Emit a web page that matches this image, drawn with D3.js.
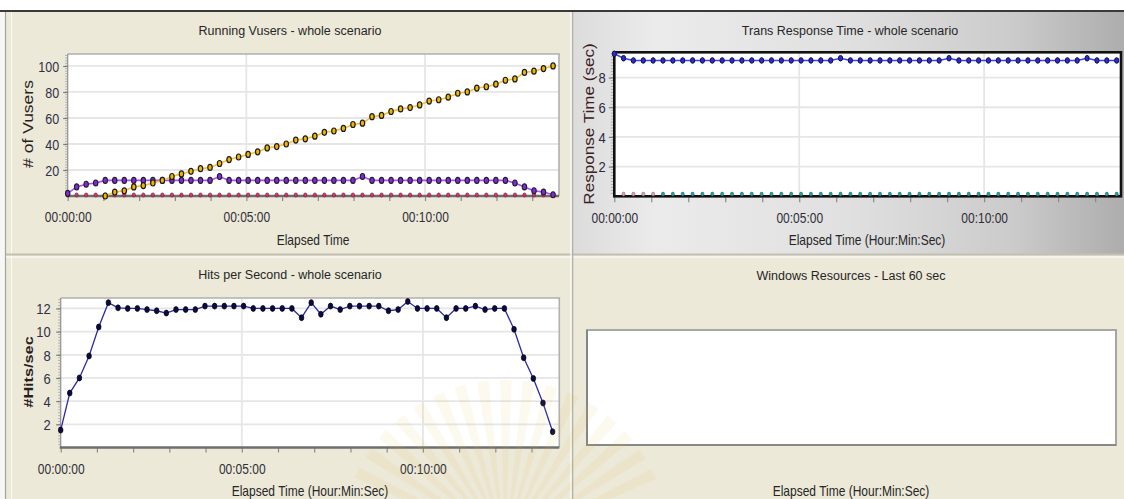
<!DOCTYPE html>
<html>
<head>
<meta charset="utf-8">
<script src="https://cdn.jsdelivr.net/npm/d3@7"></script>
<style>
  html, body { margin: 0; padding: 0; background: #fff; }
  svg { display: block; }
  text { font-family: "Liberation Sans", Arial, sans-serif; }
</style>
</head>
<body>
<svg id="chart" width="1124" height="499"></svg>
<script>
// ---- sample times (seconds of elapsed scenario time) ----
const elapsedSec = [0, 15, 31, 47, 63, 79, 95, 111, 127, 143, 159, 175, 191, 207, 223, 239, 255, 271,
  287, 303, 319, 335, 351, 367, 383, 399, 415, 431, 447, 463, 479, 495, 511, 527, 543, 559, 575, 591,
  607, 623, 639, 655, 671, 687, 703, 719, 735, 751, 767, 783, 799, 815];

// ---- Running Vusers ----
const vusersRamp = [null, null, null, null, 0, 3, 4, 7, 8, 10, 12, 15, 17, 19, 21, 22, 25, 28, 30, 32,
  34, 37, 38, 40, 43, 44, 46, 49, 50, 52, 55, 56, 61, 62, 65, 67, 68, 70, 73, 74, 76, 79, 80, 83, 84,
  86, 89, 90, 95, 96, 98, 100];
const vusersSteady = [2, 7, 9, 10, 12, 12, 12, 12, 12, 12, 12, 12, 12, 12, 12, 12, 15, 12, 12, 12, 12,
  12, 12, 12, 12, 12, 12, 12, 12, 12, 12, 15, 12, 12, 12, 12, 12, 12, 12, 12, 12, 12, 12, 12, 12, 12,
  12, 10, 7, 4, 3, 1];
const vusersIdle = [0, 0, 0, 0, 0, 0, 0, 0, 0, 0, 0, 0, 0, 0, 0, 0, 0, 0, 0, 0, 0, 0, 0, 0, 0, 0, 0, 0,
  0, 0, 0, 0, 0, 0, 0, 0, 0, 0, 0, 0, 0, 0, 0, 0, 0, 0, 0, 0, 0, 0, 0, 0];

// ---- Trans Response Time (sec) ----
const respMain = [9.6, 9.3, 9.15, 9.15, 9.15, 9.15, 9.15, 9.15, 9.15, 9.15, 9.15, 9.15, 9.15, 9.15,
  9.15, 9.15, 9.15, 9.15, 9.15, 9.15, 9.15, 9.15, 9.15, 9.3, 9.15, 9.15, 9.15, 9.15, 9.15, 9.15, 9.15,
  9.15, 9.15, 9.15, 9.3, 9.15, 9.15, 9.15, 9.15, 9.15, 9.15, 9.15, 9.15, 9.15, 9.15, 9.15, 9.15, 9.15,
  9.3, 9.15, 9.15, 9.15];
const respLogin = [null, 0, 0, 0, 0, null, null, null, null, null, null, null, null, null, null, null,
  null, null, null, null, null, null, null, null, null, null, null, null, null, null, null, null, null,
  null, null, null, null, null, null, null, null, null, null, null, null, null, null, null, null, null,
  null, null];
const respLogout = [null, null, null, null, null, 0, 0, 0, 0, 0, 0, 0, 0, 0, 0, 0, 0, 0, 0, 0, 0, 0, 0,
  0, 0, 0, 0, 0, 0, 0, 0, 0, 0, 0, 0, 0, 0, 0, 0, 0, 0, 0, 0, 0, 0, 0, 0, 0, 0, 0, 0, 0];

// ---- Hits per Second ----
const hitsPerSec = [1.5, 4.7, 6.0, 7.9, 10.4, 12.5, 12.05, 12.0, 12.0, 11.9, 11.8, 11.6, 11.9, 11.9,
  11.9, 12.2, 12.2, 12.2, 12.2, 12.2, 12.0, 12.0, 12.0, 12.0, 12.0, 11.2, 12.5, 11.5, 12.2, 11.9, 12.2,
  12.2, 12.2, 12.2, 11.8, 11.9, 12.6, 12.0, 12.0, 12.0, 11.2, 12.0, 12.0, 12.2, 11.9, 12.0, 12.0, 10.2,
  7.75, 5.96, 3.84, 1.36];

// ---- axis ticks ----
const timeTickValues = [0, 300, 600];
const timeTickLabels = ["00:00:00", "00:05:00", "00:10:00"];
const vuserTicks = [20, 40, 60, 80, 100];
const respTicks = [2, 4, 6, 8];
const hitsTicks = [2, 4, 6, 8, 10, 12];

const W = 1124, H = 499;
const svg = d3.select("#chart");
const defs = svg.append("defs");

// ---------- window chrome ----------
svg.append("rect").attr("width", W).attr("height", H).attr("fill", "#ECE9D8");
svg.append("rect").attr("x", 0).attr("y", 0).attr("width", W).attr("height", 10).attr("fill", "#ffffff");
svg.append("rect").attr("x", 0).attr("y", 10).attr("width", 5).attr("height", H - 10).attr("fill", "#f7f7f4");

const grad = defs.append("linearGradient").attr("id", "greyPane").attr("x1", 0).attr("x2", 1).attr("y1", 0).attr("y2", 0);
[["0%", "#dcdcdc"], ["15%", "#ebebeb"], ["50%", "#e0e0e0"], ["80%", "#cbcbcb"], ["100%", "#adadad"]]
  .forEach(([o, c]) => grad.append("stop").attr("offset", o).attr("stop-color", c));
svg.append("rect").attr("x", 573).attr("y", 12).attr("width", W - 573).attr("height", 242).attr("fill", "url(#greyPane)");

svg.append("line").attr("x1", 0).attr("x2", W).attr("y1", 11).attr("y2", 11).attr("stroke", "#3a3a3a").attr("stroke-width", 2);
svg.append("line").attr("x1", 5.5).attr("x2", 5.5).attr("y1", 12).attr("y2", H).attr("stroke", "#a4a49a").attr("stroke-width", 1.2);
svg.append("line").attr("x1", 11.5).attr("x2", 11.5).attr("y1", 12).attr("y2", H).attr("stroke", "#fbfbf6").attr("stroke-width", 1);
svg.append("line").attr("x1", 6).attr("x2", W).attr("y1", 254.5).attr("y2", 254.5).attr("stroke", "#c2c0b2").attr("stroke-width", 2);
svg.append("line").attr("x1", 6).attr("x2", W).attr("y1", 257).attr("y2", 257).attr("stroke", "#ffffff").attr("stroke-width", 1.2);
svg.append("line").attr("x1", 571).attr("x2", 571).attr("y1", 12).attr("y2", H).attr("stroke", "#ffffff").attr("stroke-width", 1.2);
svg.append("line").attr("x1", 572.6).attr("x2", 572.6).attr("y1", 12).attr("y2", H).attr("stroke", "#b4b2a6").attr("stroke-width", 1.4);

// ---------- helpers ----------
function stretchedText(g, x, y, txt, opt = {}) {
  const sx = opt.sx || 1, sy = opt.sy || 1, rot = opt.rotate || 0;
  return g.append("text")
    .attr("transform", `translate(${x},${y}) rotate(${rot}) scale(${sx},${sy})`)
    .attr("text-anchor", opt.anchor || "middle")
    .attr("font-size", opt.size || 12)
    .attr("font-weight", opt.weight || "normal")
    .attr("fill", opt.fill || "#2e2e2e")
    .text(txt);
}

function timeAxis(g, x, yAxis) {
  const ax = d3.axisBottom(x)
    .tickValues(d3.range(0, x.domain()[1], 60))
    .tickSize(5)
    .tickFormat(d => {
      const k = timeTickValues.indexOf(d);
      return k >= 0 ? timeTickLabels[k] : "";
    });
  const ga = g.append("g").attr("transform", `translate(0,${yAxis})`).call(ax);
  ga.attr("font-family", null).attr("font-size", null);
  ga.select(".domain").remove();
  ga.selectAll(".tick line").attr("stroke", "#8a8a8a").attr("stroke-width", 1.2);
  ga.selectAll(".tick text")
    .attr("y", null).attr("dy", null)
    .attr("transform", "translate(0,26) scale(1,1.2)")
    .attr("font-size", 12).attr("fill", "#2f2f3a");
}

function valueAxis(g, y, xAxis, ticks, minorStep, gap, size, color) {
  const top = y.domain()[1];
  const minors = d3.range(minorStep, top, minorStep);
  g.append("g").selectAll("line").data(minors).join("line")
    .attr("x1", xAxis - 2.5).attr("x2", xAxis)
    .attr("y1", d => y(d)).attr("y2", d => y(d))
    .attr("stroke", "#a8a8a8").attr("stroke-width", 0.9);
  const ax = d3.axisLeft(y).tickValues(ticks).tickSize(4.5).tickFormat(d => d);
  const ga = g.append("g").attr("transform", `translate(${xAxis},0)`).call(ax);
  ga.attr("font-family", null).attr("font-size", null);
  ga.select(".domain").remove();
  ga.selectAll(".tick line").attr("stroke", "#7a7a7a").attr("stroke-width", 1.2);
  ga.selectAll(".tick text")
    .attr("x", null).attr("dy", "0.36em")
    .attr("transform", `translate(${-gap},0) scale(1,1.15)`)
    .attr("font-size", size).attr("fill", color || "#2f2f3a");
}

function grid(g, x, y, yTicks, x0, x1, y0, y1, color) {
  g.append("g").selectAll("line").data(yTicks).join("line")
    .attr("x1", x0).attr("x2", x1).attr("y1", d => y(d)).attr("y2", d => y(d))
    .attr("stroke", color).attr("stroke-width", 1.8);
  g.append("g").selectAll("line").data(timeTickValues.slice(1)).join("line")
    .attr("x1", d => x(d)).attr("x2", d => x(d)).attr("y1", y0).attr("y2", y1)
    .attr("stroke", color).attr("stroke-width", 1.8);
}

function series(g, x, y, vals, line, mark) {
  const pts = elapsedSec.map((t, i) => ({ t, v: vals[i] })).filter(d => d.v != null);
  if (line) {
    g.append("path").datum(pts)
      .attr("d", d3.line().x(d => x(d.t)).y(d => y(d.v)))
      .attr("fill", "none").attr("stroke", line.color).attr("stroke-width", line.width);
  }
  g.append("g").selectAll("ellipse").data(pts).join("ellipse")
    .attr("cx", d => x(d.t)).attr("cy", d => y(d.v) - (mark.lift || 0))
    .attr("rx", mark.rx).attr("ry", mark.ry)
    .attr("fill", mark.fill).attr("stroke", mark.stroke).attr("stroke-width", mark.sw);
}

// ---------- Running Vusers ----------
{
  const g = svg.append("g");
  const L = 67.7, R = 559, T = 54, B = 196;
  const x = d3.scaleLinear().domain([0, 825]).range([L, R]);
  const y = d3.scaleLinear().domain([0, 109.2]).range([B, T]);

  stretchedText(g, 290, 35, "Running Vusers - whole scenario", { size: 12.5, fill: "#262626" });
  g.append("rect").attr("x", L).attr("y", T).attr("width", R - L).attr("height", B - T).attr("fill", "#fff");
  grid(g, x, y, vuserTicks, L, R, T, B, "#e6e6e6");
  g.append("path").attr("d", `M${L},${T}H${R}V${B}`).attr("fill", "none").attr("stroke", "#b0b0b0").attr("stroke-width", 1.6);
  g.append("line").attr("x1", L).attr("x2", L).attr("y1", T).attr("y2", B).attr("stroke", "#8c8c8c").attr("stroke-width", 1.2);
  valueAxis(g, y, L, vuserTicks, 2, 8.5, 12.5, "#2f2f48");
  timeAxis(g, x, B);
  g.append("line").attr("x1", L - 1).attr("x2", R).attr("y1", B).attr("y2", B).attr("stroke", "#6e6e6e").attr("stroke-width", 2.4);

  series(g, x, y, vusersIdle, null, { rx: 1.7, ry: 2.1, fill: "#e0306a", stroke: "#6a2030", sw: 0.6, lift: 1 });
  series(g, x, y, vusersSteady, { color: "#a652f5", width: 1.6 }, { rx: 2.2, ry: 3.0, fill: "#8428d8", stroke: "#1e1e2a", sw: 1.1 });
  series(g, x, y, vusersRamp, { color: "#f6c23a", width: 1.6 }, { rx: 2.2, ry: 3.0, fill: "#f2b400", stroke: "#1c1c1c", sw: 1.2 });

  stretchedText(g, 313, 245, "Elapsed Time", { size: 12, sy: 1.2, fill: "#262626" });
  stretchedText(g, 33, 124, "# of Vusers", { size: 14, rotate: -90, sx: 1.25, fill: "#2a1e1e" });
}

// ---------- Trans Response Time ----------
{
  const g = svg.append("g");
  const L = 614.3, R = 1121, T = 52.3, B = 196.3;
  const x = d3.scaleLinear().domain([0, 822]).range([L, R]);
  const y = d3.scaleLinear().domain([0, 9.7]).range([B, T]);

  stretchedText(g, 850, 35, "Trans Response Time - whole scenario", { size: 12.5, fill: "#262626" });
  g.append("rect").attr("x", L).attr("y", T).attr("width", R - L).attr("height", B - T).attr("fill", "#fff");
  grid(g, x, y, respTicks, L, R, T, B, "#e6e6e6");
  valueAxis(g, y, L - 1, respTicks, 0.2, 7.5, 13, "#2a2a40");
  timeAxis(g, x, B + 1);
  g.append("rect").attr("x", L).attr("y", T).attr("width", R - L).attr("height", B - T)
    .attr("fill", "none").attr("stroke", "#111").attr("stroke-width", 2.6);

  series(g, x, y, respMain, { color: "#3d3dff", width: 1.5 }, { rx: 2.1, ry: 2.8, fill: "#2b2bd6", stroke: "#10103a", sw: 1.0 });
  series(g, x, y, respLogin, null, { rx: 1.6, ry: 2.0, fill: "#e2a0b0", stroke: "#706060", sw: 0.5, lift: 2.2 });
  series(g, x, y, respLogout, null, { rx: 1.6, ry: 2.0, fill: "#1fa5a5", stroke: "#205050", sw: 0.5, lift: 2.2 });

  stretchedText(g, 867, 245, "Elapsed Time (Hour:Min:Sec)", { size: 12, sy: 1.2, fill: "#262626" });
  stretchedText(g, 594, 124, "Response Time (sec)", { size: 14, rotate: -90, sx: 1.22, fill: "#3a2020" });
}

// ---------- Hits per Second ----------
{
  const g = svg.append("g");
  const L = 60.7, R = 559.3, T = 298, B = 447.5;
  const x = d3.scaleLinear().domain([0, 826]).range([L, R]);
  const y = d3.scaleLinear().domain([0, 12.9]).range([B, T]);

  stretchedText(g, 290, 279, "Hits per Second - whole scenario", { size: 12.5, fill: "#262626" });
  g.append("rect").attr("x", L).attr("y", T).attr("width", R - L).attr("height", B - T).attr("fill", "#fff");
  grid(g, x, y, hitsTicks, L, R, T, B, "#e6e6e6");
  g.append("path").attr("d", `M${L},${T}H${R}V${B}`).attr("fill", "none").attr("stroke", "#b0b0b0").attr("stroke-width", 1.6);
  g.append("line").attr("x1", L).attr("x2", L).attr("y1", T).attr("y2", B).attr("stroke", "#8c8c8c").attr("stroke-width", 1.2);
  valueAxis(g, y, L, hitsTicks, 0.25, 10, 13, "#2f2f48");
  timeAxis(g, x, B);
  g.append("line").attr("x1", L - 1).attr("x2", R).attr("y1", B).attr("y2", B).attr("stroke", "#6e6e6e").attr("stroke-width", 2.4);

  series(g, x, y, hitsPerSec, { color: "#2b2ba6", width: 1.3 }, { rx: 2.3, ry: 3.0, fill: "#0b0b3c", stroke: "#000018", sw: 0.7 });

  stretchedText(g, 310, 496, "Elapsed Time (Hour:Min:Sec)", { size: 12, sy: 1.2, fill: "#262626" });
  stretchedText(g, 33, 372, "#Hits/sec", { size: 13, rotate: -90, sx: 1.25, weight: "bold", fill: "#2a1e1e" });
}

// ---------- Windows Resources ----------
{
  const g = svg.append("g");
  stretchedText(g, 851, 280, "Windows Resources - Last 60 sec", { size: 12.5, fill: "#262626" });
  g.append("rect").attr("x", 587).attr("y", 330).attr("width", 529).attr("height", 115)
    .attr("fill", "#fff").attr("stroke", "#a6a6a6").attr("stroke-width", 2);
  g.append("path").attr("d", "M587,330V445H1116").attr("fill", "none").attr("stroke", "#7e7e7e").attr("stroke-width", 1.6);
  stretchedText(g, 851, 496, "Elapsed Time (Hour:Min:Sec)", { size: 12, sy: 1.2, fill: "#262626" });
}

// ---------- faint emblem overlay near the bottom ----------
{
  const g = svg.append("g").attr("opacity", 0.08);
  const cx = 505, cy = 545;
  const arc = d3.arc().innerRadius(40).outerRadius(165);
  g.selectAll("path").data(d3.range(0, 17)).join("path")
    .attr("transform", `translate(${cx},${cy})`)
    .attr("d", i => {
      const a0 = -1.15 + i * 0.14;
      return arc({ startAngle: a0, endAngle: a0 + 0.07 });
    })
    .attr("fill", "#e0b840");
}
</script>
</body>
</html>
